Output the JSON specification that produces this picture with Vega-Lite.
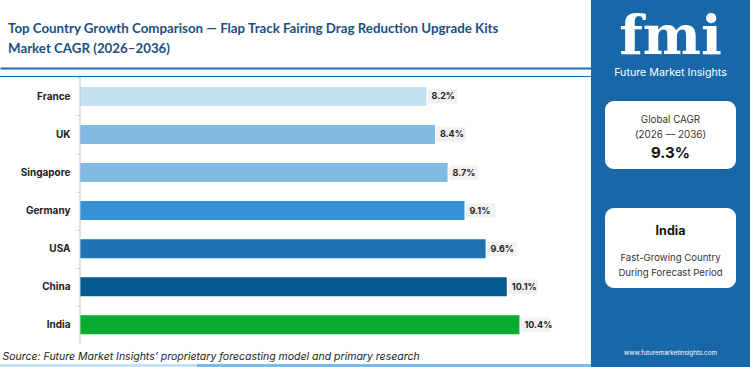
{
  "$schema": "https://vega.github.io/schema/vega-lite/v6.json",
  "background": "#1867a8",
  "padding": 0,
  "spacing": 0,
  "config": {"font": "Inter", "view": {"stroke": null}, "concat": {"spacing": 0}},
  "hconcat": [
    {
      "spacing": 0,
      "vconcat": [
        {
          "width": 591,
          "height": 76,
          "view": {"fill": "white", "stroke": null},
          "title": {
            "text": ["Top Country Growth Comparison — Flap Track Fairing Drag Reduction Upgrade Kits", "Market  CAGR (2026–2036)"],
            "anchor": "start",
            "frame": "group",
            "orient": "top",
            "offset": -55,
            "dx": 8,
            "fontSize": 13.3,
            "lineHeight": 20,
            "fontWeight": "bold",
            "font": "Lato",
            "color": "#1c4f82"
          },
          "data": {"values": []},
          "mark": {"type": "rule"},
          "encoding": {
            "x": {
              "field": "v",
              "type": "quantitative",
              "axis": {
                "orient": "bottom",
                "offset": -8,
                "title": null,
                "labels": false,
                "ticks": false,
                "grid": false,
                "domain": true,
                "domainColor": "#1f6db0",
                "domainWidth": 2
              }
            }
          }
        },
        {
          "width": 591,
          "height": 287,
          "view": {"fill": "white", "stroke": null},
          "data": {"values": [
            {"country": "France", "cagr": 8.2, "label": "8.2%"},
            {"country": "UK", "cagr": 8.4, "label": "8.4%"},
            {"country": "Singapore", "cagr": 8.7, "label": "8.7%"},
            {"country": "Germany", "cagr": 9.1, "label": "9.1%"},
            {"country": "USA", "cagr": 9.6, "label": "9.6%"},
            {"country": "China", "cagr": 10.1, "label": "10.1%"},
            {"country": "India", "cagr": 10.4, "label": "10.4%"}
          ]},
          "encoding": {
            "y": {
              "field": "country",
              "type": "nominal",
              "sort": ["France", "UK", "Singapore", "Germany", "USA", "China", "India"],
              "scale": {"type": "band", "paddingInner": 0.5, "paddingOuter": 0.52, "align": 0.25},
              "axis": {
                "title": null,
                "offset": -80,
                "domain": false,
                "ticks": true,
                "tickSize": 3,
                "tickColor": "#cccccc",
                "tickOffset": -19,
                "labelOffset": 19,
                "labelPadding": 7,
                "labelFontSize": 10,
                "labelFontWeight": "bold",
                "labelColor": "#222222",
                "labelFont": "Inter"
              }
            }
          },
          "layer": [
            {
              "mark": {"type": "bar"},
              "encoding": {
                "x": {
                  "field": "cagr",
                  "type": "quantitative",
                  "scale": {"domain": [-1.8935, 12.094], "nice": false},
                  "axis": {
                    "orient": "bottom",
                    "title": "Source: Future Market Insights’ proprietary forecasting model and primary research",
                    "labels": false,
                    "ticks": false,
                    "domain": false,
                    "grid": false,
                    "titleX": 2,
                    "titleY": -8,
                    "titleAlign": "left",
                    "titleAnchor": "start",
                    "titleBaseline": "middle",
                    "titleFont": "Inter",
                    "titleFontSize": 10.5,
                    "titleFontStyle": "italic",
                    "titleFontWeight": "normal",
                    "titleColor": "#222222"
                  }
                },
                "color": {
                  "field": "country",
                  "type": "nominal",
                  "scale": {
                    "domain": ["France", "UK", "Singapore", "Germany", "USA", "China", "India"],
                    "range": ["#c5e1f2", "#80b9e1", "#80b9e1", "#3393d6", "#1f73b3", "#055a92", "#0aab2e"]
                  },
                  "legend": null
                }
              }
            },
            {
              "mark": {"type": "point", "shape": "M0.15,-0.72 H3.1 V0.72 H0.15 Z", "size": 400, "filled": true, "color": "#f1f1f1", "opacity": 1, "strokeWidth": 0},
              "encoding": {
                "x": {"field": "cagr", "type": "quantitative", "scale": {"domain": [-1.8935, 12.094], "nice": false}, "axis": null}
              }
            },
            {
              "mark": {"type": "text", "align": "left", "baseline": "middle", "dx": 5, "fontSize": 9, "fontWeight": "bold", "color": "#222222", "font": "Inter"},
              "encoding": {
                "x": {"field": "cagr", "type": "quantitative", "scale": {"domain": [-1.8935, 12.094], "nice": false}, "axis": null},
                "text": {"field": "label"}
              }
            },
            {
              "data": {"values": [{}]},
              "mark": {"type": "rule", "color": "#c8c8c8", "strokeWidth": 1},
              "encoding": {
                "x": {"datum": 0, "type": "quantitative", "axis": null},
                "y": {"datum": "France", "bandPosition": -0.5},
                "y2": {"datum": "India", "bandPosition": 1.5}
              }
            }
          ],
          "resolve": {"axis": {"x": "independent"}}
        },
        {
          "width": 591,
          "height": 4,
          "view": {"stroke": null},
          "data": {"values": [{"seg": "a"}, {"seg": "b"}, {"seg": "c"}]},
          "mark": {"type": "bar"},
          "encoding": {
            "x": {"field": "seg", "type": "nominal", "scale": {"type": "band", "paddingInner": 0, "paddingOuter": 0}, "axis": null},
            "color": {"field": "seg", "type": "nominal", "scale": {"domain": ["a", "b", "c"], "range": ["#8cc63f", "#ee6a3a", "#8c3a8e"]}, "legend": null}
          }
        }
      ]
    },
    {
      "spacing": 0,
      "center": true,
      "vconcat": [
        {
          "width": 159,
          "height": 101,
          "view": {"stroke": null},
          "data": {"values": [{"t": "fmi", "role": "logo"}, {"t": "Future Market Insights", "role": "tag"}]},
          "layer": [
            {
              "transform": [{"filter": "datum.role === 'logo'"}],
              "mark": {"type": "text", "font": "DejaVu Serif", "fontSize": 55, "fontWeight": "bold", "color": "white", "baseline": "alphabetic"},
              "encoding": {
                "text": {"field": "t"},
                "y": {"field": "t", "type": "nominal", "scale": {"type": "point", "align": 0.53}, "axis": null}
              }
            },
            {
              "transform": [{"filter": "datum.role === 'tag'"}],
              "mark": {"type": "text", "font": "Inter", "fontSize": 10.7, "color": "white", "baseline": "middle"},
              "encoding": {
                "text": {"field": "t"},
                "y": {"field": "t", "type": "nominal", "scale": {"type": "point", "align": 0.718}, "axis": null}
              }
            }
          ],
          "resolve": {"scale": {"y": "independent"}}
        },
        {
          "width": 131,
          "height": 68,
          "view": {"fill": "white", "stroke": null, "cornerRadius": 9},
          "data": {"values": [{"t": "Global CAGR\n(2026 — 2036)", "role": "label"}, {"t": "9.3%", "role": "value"}]},
          "layer": [
            {
              "transform": [{"filter": "datum.role === 'label'"}],
              "mark": {"type": "text", "font": "Inter", "fontSize": 9.8, "color": "#333333", "baseline": "middle", "lineBreak": "\n", "lineHeight": 14.5},
              "encoding": {
                "text": {"field": "t"},
                "y": {"field": "t", "type": "nominal", "scale": {"type": "point", "align": 0.283}, "axis": null}
              }
            },
            {
              "transform": [{"filter": "datum.role === 'value'"}],
              "mark": {"type": "text", "font": "Inter", "fontSize": 15, "fontWeight": "bold", "color": "#111111", "baseline": "middle"},
              "encoding": {
                "text": {"field": "t"},
                "y": {"field": "t", "type": "nominal", "scale": {"type": "point", "align": 0.765}, "axis": null}
              }
            }
          ],
          "resolve": {"scale": {"y": "independent"}}
        },
        {
          "width": 159,
          "height": 39,
          "view": {"stroke": null},
          "data": {"values": []},
          "mark": {"type": "text"},
          "encoding": {}
        },
        {
          "width": 131,
          "height": 80,
          "view": {"fill": "white", "stroke": null, "cornerRadius": 9},
          "data": {"values": [{"t": "India", "role": "head"}, {"t": "Fast-Growing Country\nDuring Forecast Period", "role": "label"}]},
          "layer": [
            {
              "transform": [{"filter": "datum.role === 'head'"}],
              "mark": {"type": "text", "font": "Inter", "fontSize": 12.5, "fontWeight": "bold", "color": "#111111", "baseline": "middle"},
              "encoding": {
                "text": {"field": "t"},
                "y": {"field": "t", "type": "nominal", "scale": {"type": "point", "align": 0.2925}, "axis": null}
              }
            },
            {
              "transform": [{"filter": "datum.role === 'label'"}],
              "mark": {"type": "text", "font": "Inter", "fontSize": 9.6, "color": "#333333", "baseline": "middle", "lineBreak": "\n", "lineHeight": 14.3},
              "encoding": {
                "text": {"field": "t"},
                "y": {"field": "t", "type": "nominal", "scale": {"type": "point", "align": 0.631}, "axis": null}
              }
            }
          ],
          "resolve": {"scale": {"y": "independent"}}
        },
        {
          "width": 159,
          "height": 79,
          "view": {"stroke": null},
          "data": {"values": [{"t": "www.futuremarketinsights.com"}]},
          "mark": {"type": "text", "font": "Inter", "fontSize": 6.3, "color": "white", "baseline": "middle"},
          "encoding": {
            "text": {"field": "t"},
            "y": {"field": "t", "type": "nominal", "scale": {"type": "point", "align": 0.829}, "axis": null}
          }
        }
      ]
    }
  ]
}
